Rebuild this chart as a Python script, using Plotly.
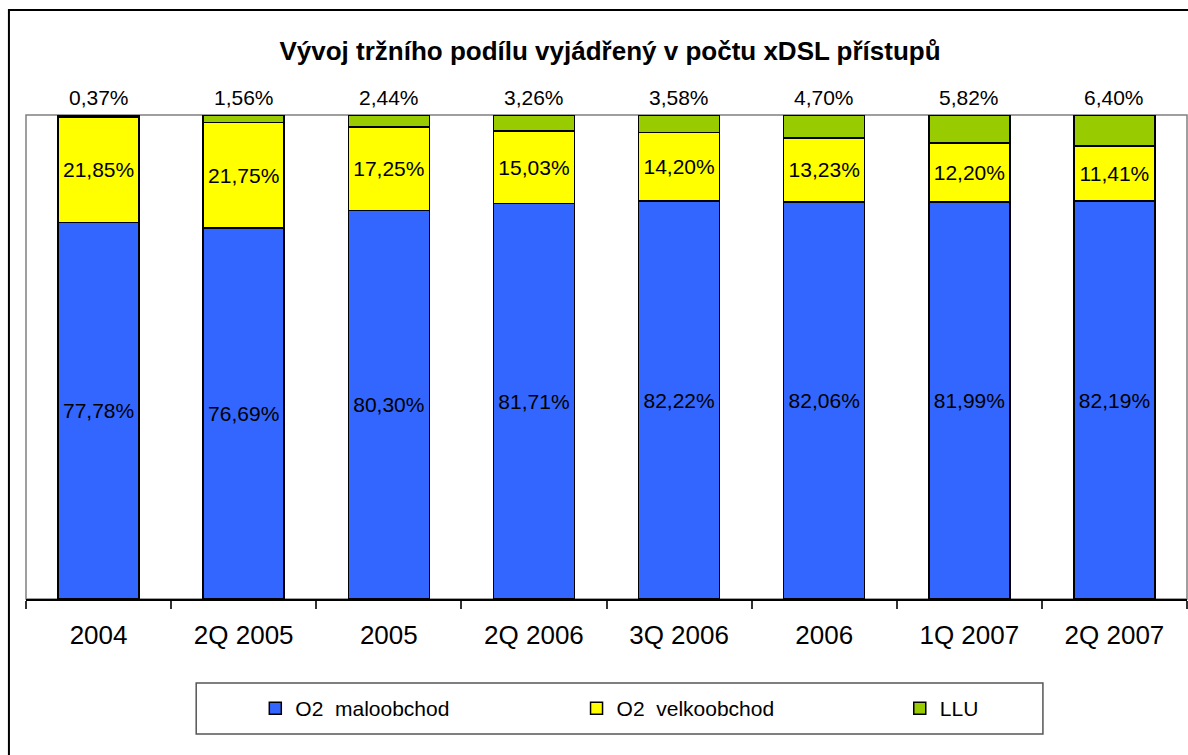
import plotly.graph_objects as go

categories = ["2004", "2Q 2005", "2005", "2Q 2006", "3Q 2006", "2006", "1Q 2007", "2Q 2007"]
maloobchod = [77.78, 76.69, 80.30, 81.71, 82.22, 82.06, 81.99, 82.19]
velkoobchod = [21.85, 21.75, 17.25, 15.03, 14.20, 13.23, 12.20, 11.41]
llu = [0.37, 1.56, 2.44, 3.26, 3.58, 4.70, 5.82, 6.40]

series_names = ["O2  maloobchod", "O2  velkoobchod", "LLU"]
colors = ["#3366FF", "#FFFF00", "#99CC00"]
legend_ids = ["legend", "legend2", "legend3"]
legend_x = [0.1975, 0.4742, 0.7526]

FONT = "Arial, Liberation Sans, sans-serif"
Y_MAX = 100


def fmt(v):
    return f"{v:.2f}".replace(".", ",") + "%"


fig = go.Figure()
for name, vals, col, show_text, lg in zip(series_names, [maloobchod, velkoobchod, llu], colors,
                                          [True, True, False], legend_ids):
    fig.add_trace(go.Bar(
        x=categories, y=vals, name=name, legend=lg,
        marker=dict(color=col, line=dict(color="black", width=1.5)),
        text=[fmt(v) for v in vals] if show_text else None,
        textposition="inside" if show_text else "none",
        insidetextanchor="middle",
        textangle=0,
        insidetextfont=dict(family=FONT, size=21, color="black"),
        constraintext="none",
        hoverinfo="skip",
    ))

# LLU labels above the plot area (category index positions, top of the stack)
for i, (m, v, l) in enumerate(zip(maloobchod, velkoobchod, llu)):
    fig.add_annotation(x=i, y=min(m + v + l, Y_MAX), text=fmt(l), showarrow=False,
                       yanchor="bottom", yshift=4,
                       font=dict(family=FONT, size=21, color="black"))

shapes = [
    # plot area border
    dict(type="rect", xref="paper", yref="paper", x0=0, x1=1, y0=0, y1=1,
         line=dict(color="#808080", width=1.5), layer="below"),
    # legend box
    dict(type="rect", xref="paper", yref="paper", x0=0.1466, x1=0.8759, y0=-0.2789, y1=-0.1736,
         line=dict(color="#555555", width=1.5), fillcolor="rgba(0,0,0,0)"),
    # outer chart border
    dict(type="rect", xref="paper", yref="paper", x0=-0.0147, x1=1.05, y0=-0.5, y1=1.2169,
         line=dict(color="black", width=2), fillcolor="rgba(0,0,0,0)"),
]

legend_common = dict(orientation="h", y=-0.2262, yanchor="middle", xanchor="left",
                     font=dict(family=FONT, size=21, color="black"),
                     bgcolor="rgba(0,0,0,0)", borderwidth=0)

fig.update_layout(
    width=1188, height=755,
    margin=dict(l=26, r=1, t=115, b=156, autoexpand=False),
    paper_bgcolor="white", plot_bgcolor="white",
    barmode="stack", bargap=0.442,
    title=dict(text="<b>Vývoj tržního podílu vyjádřený v počtu xDSL přístupů</b>",
               x=0.5135, xref="container", xanchor="center",
               y=1 - 51 / 755, yref="container", yanchor="middle",
               font=dict(family=FONT, size=26, color="black")),
    font=dict(family=FONT, color="black"),
    xaxis=dict(type="category", range=[-0.5, len(categories) - 0.5],
               showline=True, linecolor="black", linewidth=1.5,
               ticks="outside", tickson="boundaries", ticklen=8, tickcolor="#333333", tickwidth=1.5,
               tickfont=dict(family=FONT, size=26, color="black"), tickangle=0,
               ticklabelstandoff=12,
               showgrid=False, zeroline=False, automargin=False),
    yaxis=dict(range=[0, Y_MAX], visible=False, showgrid=False, zeroline=False),
    showlegend=True,
    legend=dict(x=legend_x[0], **legend_common),
    legend2=dict(x=legend_x[1], **legend_common),
    legend3=dict(x=legend_x[2], **legend_common),
    shapes=shapes,
)

fig.write_html("out.html", config={"displayModeBar": False},
               post_script="document.body.style.margin='0';")
